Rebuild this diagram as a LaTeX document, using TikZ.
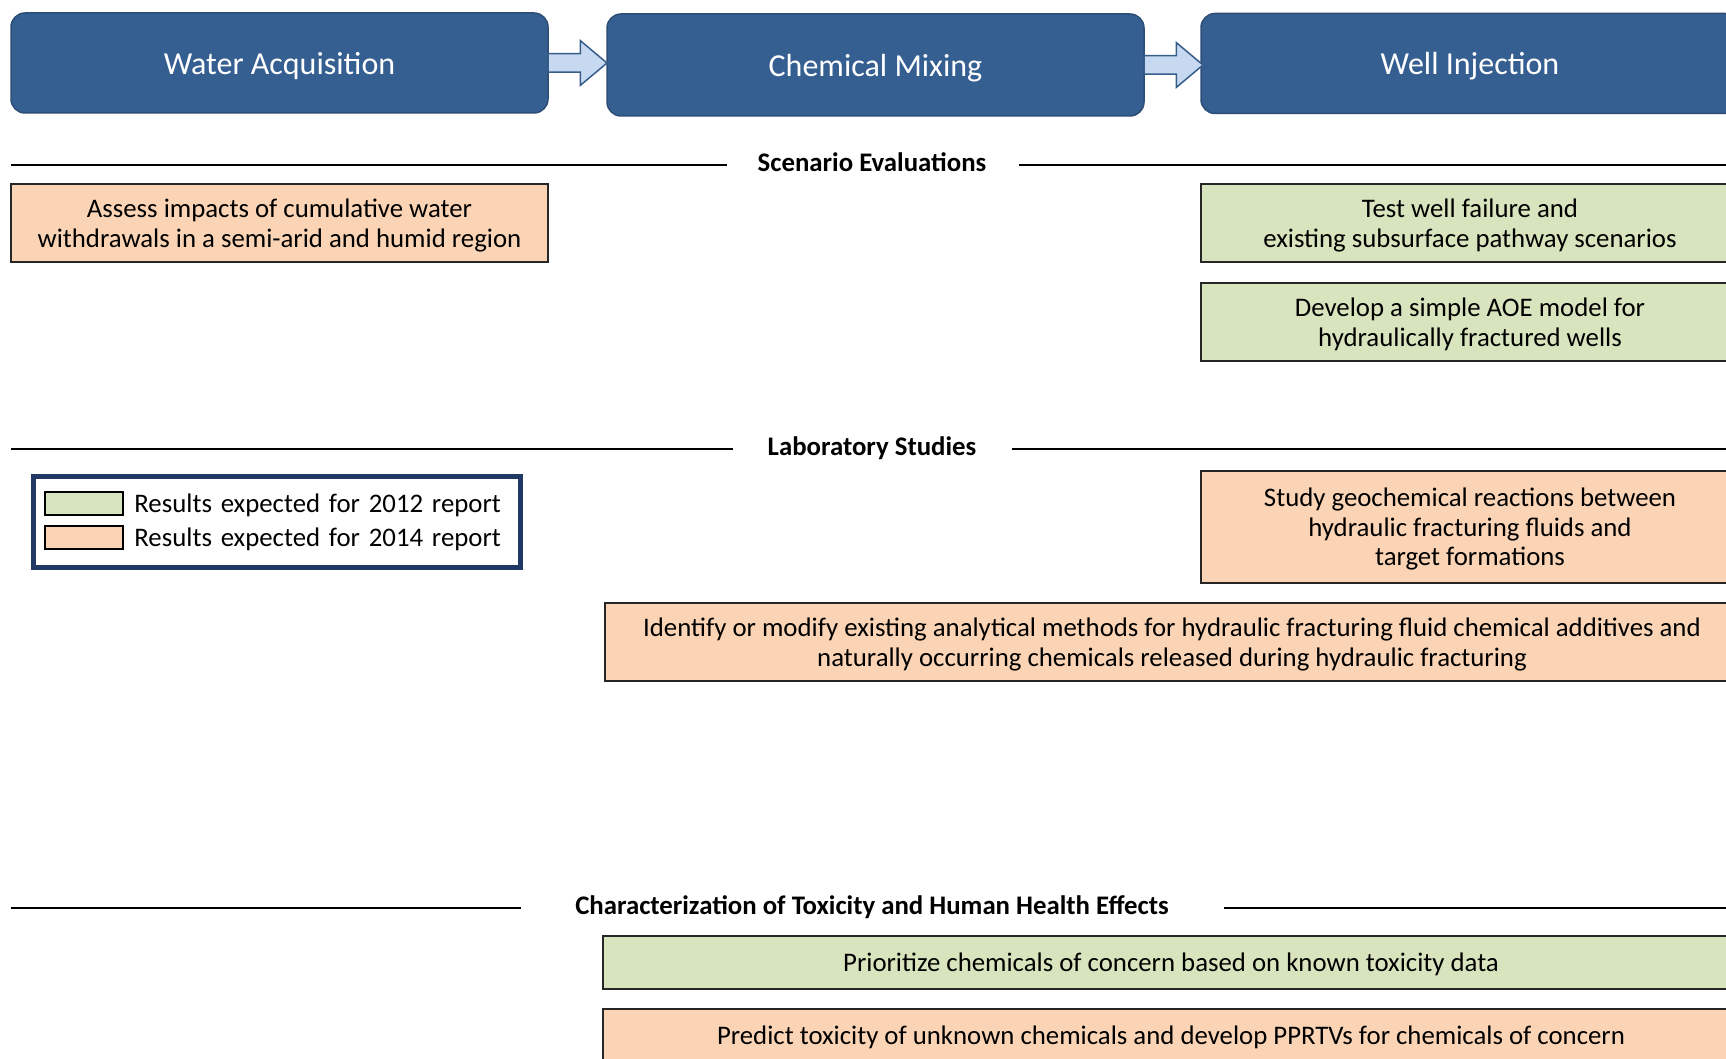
\documentclass[tikz,border=0pt]{standalone}
\usepackage{fontspec}
\setmainfont{Carlito}
\usetikzlibrary{positioning}
\usetikzlibrary{shapes.arrows}

\definecolor{hdrblue}{RGB}{54,95,145}
\definecolor{hdrline}{RGB}{44,77,117}
\definecolor{arrowfill}{RGB}{198,217,241}
\definecolor{arrowline}{RGB}{56,93,138}
\definecolor{green12}{RGB}{215,228,189}
\definecolor{orange14}{RGB}{251,212,181}
\definecolor{legendnavy}{RGB}{31,56,100}

\newcommand{\legwords}[1]{{\spaceskip=4.4pt\relax #1}}

\begin{document}
\begin{tikzpicture}[x=0.5pt,y=-0.5pt,
    header/.style={shape=rectangle, rounded corners=7pt, draw=hdrline, line width=0.75pt, fill=hdrblue, text=white, font=\fontsize{16}{19}\selectfont, text depth=0pt, minimum width=268.5pt, minimum height=50pt, outer sep=0pt},
    task/.style={shape=rectangle, draw=black!85, line width=1pt, align=center, font=\fontsize{13.4}{14.8}\selectfont, text depth=0pt, minimum height=39pt},
    early/.style={task, fill=green12},
    late/.style={task, fill=orange14},
    flow/.style={shape=single arrow, draw=arrowline, fill=arrowfill, line width=0.75pt, minimum height=29.5pt, inner sep=4.25pt, single arrow head extend=6.5pt, single arrow tip angle=80, outer sep=0pt},
    section/.style={anchor=base, font=\bfseries\fontsize{13.4}{15}\selectfont},
    swatch/.style={shape=rectangle, draw=black, line width=1pt, minimum width=39pt, minimum height=11.5pt},
    legtext/.style={inner sep=0pt, text depth=0pt, font=\fontsize{13.4}{15}\selectfont},
    rule/.style={line width=1pt}]
  \useasboundingbox (0,0) rectangle (1726,1059);

  % process stages
  \node (wacq) [header] at (279.5,63) {Water Acquisition};
  \node (cmix) [header, minimum height=51pt] at (875.5,65) {Chemical Mixing};
  \node (winj) [header, minimum width=269pt] at (1470,63.5) {Well Injection};
  \node (wacq2cmix) [flow, right=0pt of wacq] {};
  \node (cmix2winj) [flow, right=0pt of cmix] {};

  % scenario evaluations
  \node (scen) [section] at (872,172) {Scenario Evaluations};
  \draw[rule] (11,165) -- (727,165);
  \draw[rule] (1019,165) -- (1726,165);
  \node (assess) [late, minimum width=268.5pt] at (279.5,223) {Assess impacts of cumulative water\\withdrawals in a semi-arid and humid region};
  \node (wellfail) [early, minimum width=269pt] at (1470,223) {Test well failure and\\existing subsurface pathway scenarios};
  \node (aoe) [early, minimum width=269pt] at (1470,322) {Develop a simple AOE model for\\hydraulically fractured wells};

  % laboratory studies
  \node (lab) [section] at (872,456) {Laboratory Studies};
  \draw[rule] (11,449) -- (733,449);
  \draw[rule] (1012,449) -- (1726,449);
  \node (legend) [draw=legendnavy, line width=2.5pt, minimum width=243.5pt, minimum height=45.5pt] at (277,522) {};
  \node (sw12) [swatch, fill=green12] at (84,503.5) {};
  \node (sw14) [swatch, fill=orange14] at (84,537.5) {};
  \node (lg12) [legtext, right=5pt of sw12] {\legwords{Results expected for 2012 report}};
  \node (lg14) [legtext, right=5pt of sw14] {\legwords{Results expected for 2014 report}};
  \node (geochem) [late, minimum width=269pt, minimum height=56pt] at (1470,527) {Study geochemical reactions between\\hydraulic fracturing fluids and\\target formations};
  \node (methods) [late, minimum width=567pt] at (1172,642) {Identify or modify existing analytical methods for hydraulic fracturing fluid chemical additives and\\naturally occurring chemicals released during hydraulic fracturing};

  % toxicity
  \node (tox) [section] at (872,914) {Characterization of Toxicity and Human Health Effects};
  \draw[rule] (11,908) -- (521,908);
  \draw[rule] (1224,908) -- (1726,908);
  \node (prior) [early, minimum width=568pt, minimum height=26.5pt] at (1171,962.5) {Prioritize chemicals of concern based on known toxicity data};
  \node (predict) [late, minimum width=568pt, minimum height=26.5pt] at (1171,1035.5) {Predict toxicity of unknown chemicals and develop PPRTVs for chemicals of concern};
\end{tikzpicture}
\end{document}
